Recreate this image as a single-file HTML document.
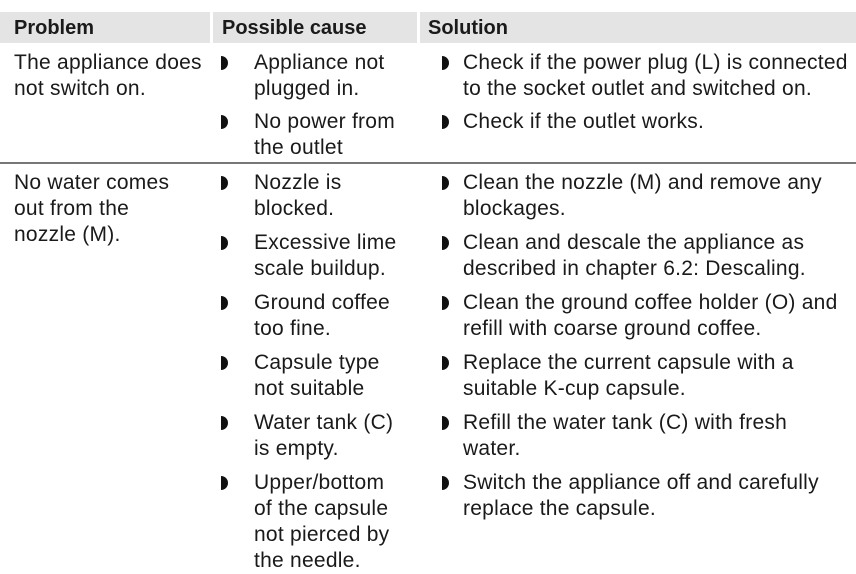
<!DOCTYPE html>
<html><head><meta charset="utf-8"><style>
body{margin:0;width:856px;height:571px;background:#fff;position:relative;overflow:hidden;font-family:"Liberation Sans",Arial,sans-serif;color:#1a1a1a}
.h{position:absolute;top:12px;height:31px;background:#e4e4e4}
.t{position:absolute;font-size:21px;line-height:26px;white-space:nowrap;letter-spacing:0.25px}
.b{font-weight:bold;font-size:20px;letter-spacing:0}
.d{position:absolute;width:7px;height:14px;background:#111;border-radius:0 7px 7px 0}
</style></head><body>
<div class="h" style="left:0;width:210px"></div>
<div class="h" style="left:213px;width:204px"></div>
<div class="h" style="left:420px;width:436px"></div>
<div class="t b" style="left:14px;top:15px">Problem</div>
<div class="t b" style="left:222px;top:15px">Possible cause</div>
<div class="t b" style="left:428px;top:15px">Solution</div>
<div style="position:absolute;left:0;top:162px;width:856px;height:2px;background:#777"></div>

<div class="t" style="left:14px;top:50px">The appliance does</div>
<div class="t" style="left:14px;top:76px">not switch on.</div>
<div class="t" style="left:14px;top:170px">No water comes</div>
<div class="t" style="left:14px;top:196px">out from the</div>
<div class="t" style="left:14px;top:222px">nozzle (M).</div>

<div class="d" style="left:221px;top:56px"></div>
<div class="t" style="left:254px;top:50px">Appliance not</div>
<div class="t" style="left:254px;top:76px">plugged in.</div>
<div class="d" style="left:221px;top:115px"></div>
<div class="t" style="left:254px;top:109px">No power from</div>
<div class="t" style="left:254px;top:135px">the outlet</div>

<div class="d" style="left:442px;top:56px"></div>
<div class="t" style="left:463px;top:50px">Check if the power plug (L) is connected</div>
<div class="t" style="left:463px;top:76px">to the socket outlet and switched on.</div>
<div class="d" style="left:442px;top:115px"></div>
<div class="t" style="left:463px;top:109px">Check if the outlet works.</div>

<div class="d" style="left:221px;top:176px"></div>
<div class="t" style="left:254px;top:170px">Nozzle is</div>
<div class="t" style="left:254px;top:196px">blocked.</div>
<div class="d" style="left:221px;top:236px"></div>
<div class="t" style="left:254px;top:230px">Excessive lime</div>
<div class="t" style="left:254px;top:256px">scale buildup.</div>
<div class="d" style="left:221px;top:296px"></div>
<div class="t" style="left:254px;top:290px">Ground coffee</div>
<div class="t" style="left:254px;top:316px">too fine.</div>
<div class="d" style="left:221px;top:356px"></div>
<div class="t" style="left:254px;top:350px">Capsule type</div>
<div class="t" style="left:254px;top:376px">not suitable</div>
<div class="d" style="left:221px;top:416px"></div>
<div class="t" style="left:254px;top:410px">Water tank (C)</div>
<div class="t" style="left:254px;top:436px">is empty.</div>
<div class="d" style="left:221px;top:476px"></div>
<div class="t" style="left:254px;top:470px">Upper/bottom</div>
<div class="t" style="left:254px;top:496px">of the capsule</div>
<div class="t" style="left:254px;top:522px">not pierced by</div>
<div class="t" style="left:254px;top:548px">the needle.</div>

<div class="d" style="left:442px;top:176px"></div>
<div class="t" style="left:463px;top:170px">Clean the nozzle (M) and remove any</div>
<div class="t" style="left:463px;top:196px">blockages.</div>
<div class="d" style="left:442px;top:236px"></div>
<div class="t" style="left:463px;top:230px">Clean and descale the appliance as</div>
<div class="t" style="left:463px;top:256px">described in chapter 6.2: Descaling.</div>
<div class="d" style="left:442px;top:296px"></div>
<div class="t" style="left:463px;top:290px">Clean the ground coffee holder (O) and</div>
<div class="t" style="left:463px;top:316px">refill with coarse ground coffee.</div>
<div class="d" style="left:442px;top:356px"></div>
<div class="t" style="left:463px;top:350px">Replace the current capsule with a</div>
<div class="t" style="left:463px;top:376px">suitable K-cup capsule.</div>
<div class="d" style="left:442px;top:416px"></div>
<div class="t" style="left:463px;top:410px">Refill the water tank (C) with fresh</div>
<div class="t" style="left:463px;top:436px">water.</div>
<div class="d" style="left:442px;top:476px"></div>
<div class="t" style="left:463px;top:470px">Switch the appliance off and carefully</div>
<div class="t" style="left:463px;top:496px">replace the capsule.</div>
</body></html>
